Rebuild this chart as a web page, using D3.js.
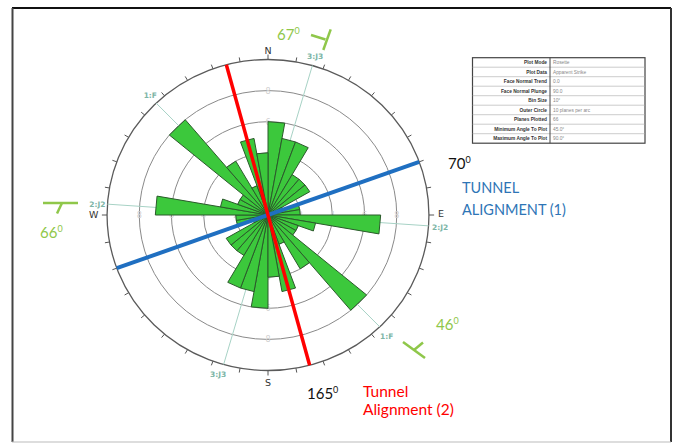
<!DOCTYPE html>
<html><head><meta charset="utf-8">
<script src="https://cdn.jsdelivr.net/npm/d3@7"></script>
<style>
html,body{margin:0;padding:0;background:#fff;}
svg{display:block;}
</style></head>
<body>
<svg id="chart" width="675" height="443"></svg>
<script>
// Apparent strike rosette, 10° bins over 0–180°, mirrored onto 180–360°
const binStarts = [0,10,20,30,40,50,60,70,80,90,100,110,120,130,140,150,160,170];
const binCounts = [6,5,5,3,3,3,1,2,2,7,3,2,2,8,4,2,5,4];
const binSize = 10;
const ringValues = [2,4,6,8];
const outerValue = 10;
const compass = [{label:"N", az:0},{label:"E", az:90},{label:"S", az:180},{label:"W", az:270}];
const planeIds = ["1:F","2:J2","3:J3"];
const planeStrikes = [316,274,16];
const planeDips = [46,66,67];
const tunnelNames = [["TUNNEL","ALIGNMENT (1)"],["Tunnel","Alignment (2)"]];
const tunnelAz = [70,165];
const tableKeys = ["Plot Mode","Plot Data","Face Normal Trend","Face Normal Plunge","Bin Size","Outer Circle","Planes Plotted","Minimum Angle To Plot","Maximum Angle To Plot"];
const tableVals = ["Rosette","Apparent Strike","0.0","90.0","10°","10 planes per arc","66","45.0°","90.0°"];

const svg = d3.select("#chart");
const cx = 268, cy = 215, R = 155.5, sx = 1.035;
const r = d3.scaleLinear().domain([0, outerValue]).range([0, R]);
const rad = d => d * Math.PI / 180;
const pt = (az, px) => [cx + sx * px * Math.sin(rad(az)), cy - px * Math.cos(rad(az))];
const line = d3.line();

// frame
svg.append("line").attr("x1",12).attr("y1",8).attr("x2",671).attr("y2",8).attr("stroke","#111").attr("stroke-width",2);
svg.append("line").attr("x1",12.5).attr("y1",8).attr("x2",12.5).attr("y2",442).attr("stroke","#444").attr("stroke-width",2);
svg.append("line").attr("x1",671).attr("y1",8).attr("x2",671).attr("y2",442).attr("stroke","#333").attr("stroke-width",2);
svg.append("line").attr("x1",12).attr("y1",442).attr("x2",671).attr("y2",442).attr("stroke","#bbb").attr("stroke-width",1);

// rings
const g = svg.append("g");
g.selectAll("ellipse.ring").data(ringValues.concat([outerValue])).join("ellipse")
  .attr("cx",cx).attr("cy",cy)
  .attr("rx",d=>sx*r(d)).attr("ry",d=>r(d))
  .attr("fill","none")
  .attr("stroke",d=>d===outerValue?"#5a5a5a":"#8a8a8a")
  .attr("stroke-width",d=>d===outerValue?1.3:1);

// ring value labels on the cardinal axes
const ringLab = [];
ringValues.forEach(v => compass.forEach(c => ringLab.push({v, az:c.az})));
g.selectAll("text.rl").data(ringLab).join("text")
  .attr("x",d=>pt(d.az,r(d.v))[0]).attr("y",d=>pt(d.az,r(d.v))[1]+3)
  .attr("text-anchor","middle").attr("font-family","DejaVu Sans").attr("font-size",8)
  .attr("fill","#cfcfcf").text(d=>d.v);

// tick marks every 10°
const ticks = d3.range(0,360,10);
g.selectAll("line.tick").data(ticks).join("line")
  .attr("x1",d=>pt(d,R)[0]).attr("y1",d=>pt(d,R)[1])
  .attr("x2",d=>pt(d,R+(d%90===0?5:4.5))[0]).attr("y2",d=>pt(d,R+(d%90===0?5:4.5))[1])
  .attr("stroke","#555").attr("stroke-width",1);

// plane strike lines
g.selectAll("line.plane").data(planeStrikes).join("line")
  .attr("x1",d=>pt(d,R)[0]).attr("y1",d=>pt(d,R)[1])
  .attr("x2",d=>pt(d+180,R)[0]).attr("y2",d=>pt(d+180,R)[1])
  .attr("stroke","#a7d2c5").attr("stroke-width",1);

// petals
const petals = [];
binStarts.forEach((s,i) => { petals.push({s, n:binCounts[i]}); petals.push({s:s+180, n:binCounts[i]}); });
g.selectAll("path.petal").data(petals).join("path")
  .attr("d",d=>line([[cx,cy], pt(d.s, r(d.n)), pt(d.s+binSize, r(d.n))])+"Z")
  .attr("fill","#3cc83c").attr("stroke","#2b5a2b").attr("stroke-width",1).attr("stroke-linejoin","round");

// tunnel alignments
const tColors = ["#1f6fc1","#ff0000"];
const tWidths = [4,3.5];
g.selectAll("line.tunnel").data(tunnelAz).join("line")
  .attr("x1",d=>pt(d,R)[0]).attr("y1",d=>pt(d,R)[1])
  .attr("x2",d=>pt(d+180,R)[0]).attr("y2",d=>pt(d+180,R)[1])
  .attr("stroke",(d,i)=>tColors[i]).attr("stroke-width",(d,i)=>tWidths[i]);

// compass letters
const compassPos = {N:[268,53.5,"middle"], E:[438,217,"start"], S:[268,385.5,"middle"], W:[98.5,218,"end"]};
svg.selectAll("text.cp").data(compass).join("text")
  .attr("x",d=>compassPos[d.label][0]).attr("y",d=>compassPos[d.label][1])
  .attr("text-anchor",d=>compassPos[d.label][2])
  .attr("font-family","DejaVu Sans").attr("font-size",9.5).attr("fill","#333").text(d=>d.label);

// plane set labels at both ends of each strike line
const plLab = [
  {i:0, x:157, y:97.5, a:"end"}, {i:0, x:380, y:338.5, a:"start"},
  {i:1, x:105.5, y:207, a:"end"}, {i:1, x:432, y:230, a:"start"},
  {i:2, x:307, y:59, a:"start"}, {i:2, x:210, y:376.5, a:"start"}
];
svg.selectAll("text.pl").data(plLab).join("text")
  .attr("x",d=>d.x).attr("y",d=>d.y).attr("text-anchor",d=>d.a)
  .attr("font-family","DejaVu Sans").attr("font-weight","bold").attr("font-size",7.5)
  .attr("fill","#7db5a6").text(d=>planeIds[d.i]);

// degree annotations
function degText(x, y, val, color) {
  const t = svg.append("text").attr("x",x).attr("y",y)
    .attr("font-family","Lato").attr("font-size",15).attr("fill",color);
  t.append("tspan").text(val);
  t.append("tspan").attr("font-size",9).attr("dy",-6).text("0");
}
const green = "#8fc74a";
degText(277, 39.5, planeDips[2], green);
degText(40, 237.5, planeDips[1], green);
degText(436, 330, planeDips[0], green);
degText(448, 168.5, tunnelAz[0], "#111");
degText(307, 398.5, tunnelAz[1], "#111");

// strike/dip symbols
const symbols = [
  {seg:[[330.7,29.3],[323.3,50]], tick:[[325.5,39.5],[311,35]]},
  {seg:[[43,203],[78,203]], tick:[[62,203],[57,213.5]]},
  {seg:[[403,342],[425,358]], tick:[[414,350],[423,342.5]]}
];
symbols.forEach(s => {
  svg.append("path").attr("d",line(s.seg)).attr("stroke",green).attr("stroke-width",2.5).attr("fill","none");
  svg.append("path").attr("d",line(s.tick)).attr("stroke",green).attr("stroke-width",2.5).attr("fill","none");
});

// tunnel captions
const capPos = [[462,193,214.5,"#2e75b6",14.5],[363,397,414.5,"#ff0000",15.5]];
tunnelNames.forEach((nm,i) => {
  const p = capPos[i];
  svg.append("text").attr("x",p[0]).attr("y",p[1]).attr("font-family","Lato").attr("font-size",p[4]).attr("fill",p[3]).text(nm[0]);
  svg.append("text").attr("x",p[0]).attr("y",p[2]).attr("font-family","Lato").attr("font-size",p[4]).attr("fill",p[3]).text(nm[1]);
});

// plot settings table
const tx0 = 472.5, tx1 = 645, tdiv = 550, ty0 = 57.7, rowH = 9.5;
const tb = svg.append("g");
tb.append("rect").attr("x",tx0).attr("y",ty0).attr("width",tx1-tx0).attr("height",rowH*tableKeys.length)
  .attr("fill","#fff").attr("stroke","#444").attr("stroke-width",1.2);
tb.selectAll("line.row").data(d3.range(1,tableKeys.length)).join("line")
  .attr("x1",tx0).attr("x2",tx1).attr("y1",d=>ty0+d*rowH).attr("y2",d=>ty0+d*rowH)
  .attr("stroke","#aaa").attr("stroke-width",0.6);
tb.append("line").attr("x1",tdiv).attr("x2",tdiv).attr("y1",ty0).attr("y2",ty0+rowH*tableKeys.length)
  .attr("stroke","#444").attr("stroke-width",1);
tb.selectAll("text.k").data(tableKeys).join("text")
  .attr("x",tdiv-3).attr("y",(d,i)=>ty0+i*rowH+6.3).attr("text-anchor","end")
  .attr("font-family","Liberation Sans").attr("font-weight","bold").attr("font-size",4.8).attr("fill","#333").text(d=>d);
tb.selectAll("text.v").data(tableVals).join("text")
  .attr("x",tdiv+3).attr("y",(d,i)=>ty0+i*rowH+6.3)
  .attr("font-family","Liberation Sans").attr("font-size",4.8).attr("fill","#888").text(d=>d);
</script>
</body></html>
